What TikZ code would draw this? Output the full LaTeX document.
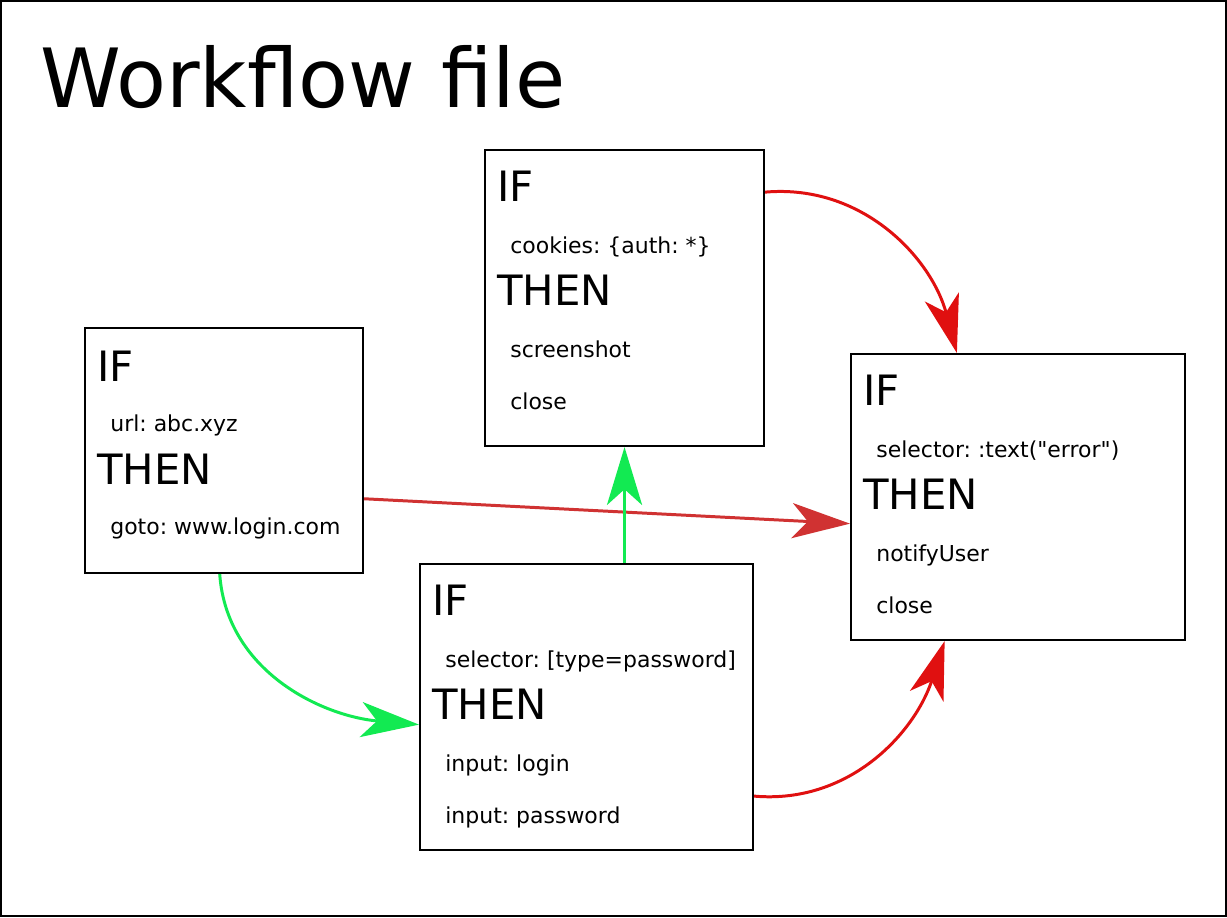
\documentclass[tikz,border=0pt]{standalone}
\usepackage{fontspec}
\setmainfont{DejaVu Sans}
\usetikzlibrary{arrows.meta}
\frenchspacing

\definecolor{ruleRed}{RGB}{224,16,16}
\definecolor{linkRed}{RGB}{208,50,50}
\definecolor{ruleGreen}{RGB}{18,234,82}

\tikzset{
  rulebox/.style={rectangle, draw=black, line width=1.2pt, inner sep=0pt, anchor=north west},
  bigtxt/.style={inner sep=0pt, anchor=base west, font=\fontsize{23.8}{28}\selectfont},
  smalltxt/.style={inner sep=0pt, anchor=base west, font=\fontsize{12.5}{15}\selectfont},
  flow/.style={line width=1.7pt, -{Stealth[length=33pt, width=20pt, inset=9pt]}},
}

\begin{document}
\begin{tikzpicture}[x=0.02cm, y=-0.02cm]
  \useasboundingbox (0,0) rectangle (1227,917);
  \draw[line width=1.2pt] (1,1) rectangle (1226,916);
  \node[inner sep=0pt, anchor=base west, font=\fontsize{46.5}{54}\selectfont] (title) at (40,107) {Workflow file};

  % rule boxes
  \node[rulebox, minimum width=5.56cm, minimum height=4.9cm] (urlbox) at (84,327) {};
  \node[rulebox, minimum width=5.58cm, minimum height=5.92cm] (cookbox) at (484,149) {};
  \node[rulebox, minimum width=6.66cm, minimum height=5.72cm] (passbox) at (419,563) {};
  \node[rulebox, minimum width=6.68cm, minimum height=5.72cm] (errbox) at (850,353) {};

  \node[bigtxt] (urlif) at ([shift={(13,54)}]urlbox.north west) {IF};
  \node[smalltxt] (urlcond) at ([shift={(26,104)}]urlbox.north west) {url: abc.xyz};
  \node[bigtxt] (urlthen) at ([shift={(13,157)}]urlbox.north west) {THEN};
  \node[smalltxt] (urlgoto) at ([shift={(26,207)}]urlbox.north west) {goto: www.login.com};

  \node[bigtxt] (cookif) at ([shift={(13,52)}]cookbox.north west) {IF};
  \node[smalltxt] (cookcond) at ([shift={(26,104)}]cookbox.north west) {cookies: \{auth: *\}};
  \node[bigtxt] (cookthen) at ([shift={(13,156)}]cookbox.north west) {THEN};
  \node[smalltxt] (cookshot) at ([shift={(26,208)}]cookbox.north west) {screenshot};
  \node[smalltxt] (cookclose) at ([shift={(26,260)}]cookbox.north west) {close};

  \node[bigtxt] (passif) at ([shift={(13,52)}]passbox.north west) {IF};
  \node[smalltxt] (passcond) at ([shift={(26,104)}]passbox.north west) {selector: [type=password]};
  \node[bigtxt] (passthen) at ([shift={(13,156)}]passbox.north west) {THEN};
  \node[smalltxt] (passlogin) at ([shift={(26,208)}]passbox.north west) {input: login};
  \node[smalltxt] (passpw) at ([shift={(26,260)}]passbox.north west) {input: password};

  \node[bigtxt] (errif) at ([shift={(13,52)}]errbox.north west) {IF};
  \node[smalltxt] (errcond) at ([shift={(26,104)}]errbox.north west) {selector: :text(\textquotedbl error\textquotedbl)};
  \node[bigtxt] (errthen) at ([shift={(13,156)}]errbox.north west) {THEN};
  \node[smalltxt] (errnotify) at ([shift={(26,208)}]errbox.north west) {notifyUser};
  \node[smalltxt] (errclose) at ([shift={(26,260)}]errbox.north west) {close};

  % connectors
  \draw[flow, ruleRed] (cookbox.37) to[out=5, in=105] (errbox.113);
  \draw[flow, linkRed] (urlbox.-19) -- (errbox.189);
  \draw[flow, ruleGreen] (urlbox.268) to[out=-86, in=175] (passbox.186);
  \draw[flow, ruleGreen] (passbox.north -| cookbox.south) -- (cookbox.south);
  \draw[flow, ruleRed] (passbox.-28) to[out=-5, in=-108] (errbox.243);
\end{tikzpicture}
\end{document}
